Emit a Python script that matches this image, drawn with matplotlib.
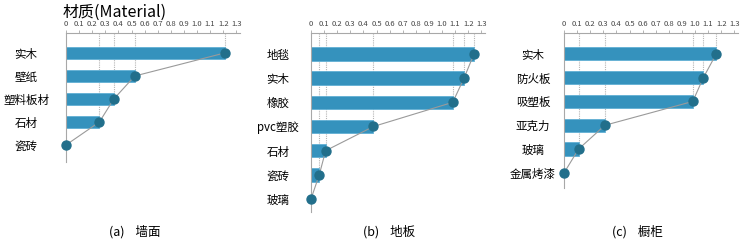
import matplotlib
matplotlib.use('Agg')
import matplotlib.pyplot as plt
import numpy as np

plt.rcParams['font.family'] = ['Noto Sans CJK SC', 'DejaVu Sans']

# data
wall_labels = ['实木', '壁纸', '塑料板材', '石材', '瓷砖']
wall_values = [1.21, 0.525, 0.365, 0.255, 0.0]

floor_labels = ['地毯', '实木', '橡胶', 'pvc塑胶', '石材', '瓷砖', '玻璃']
floor_values = [1.244, 1.168, 1.082, 0.477, 0.112, 0.063, 0.0]

cab_labels = ['实木', '防火板', '吸塑板', '亚克力', '玻璃', '金属烤漆']
cab_values = [1.163, 1.064, 0.983, 0.312, 0.111, 0.0]

captions = ['(a)    墙面', '(b)    地板', '(c)    橱柜']
ticks = [0, 0.1, 0.2, 0.3, 0.4, 0.5, 0.6, 0.7, 0.8, 0.9, 1.0, 1.1, 1.2, 1.3]
tick_labels = ['0', '0.1', '0.2', '0.3', '0.4', '0.5', '0.6', '0.7', '0.8', '0.9', '1.0', '1.1', '1.2', '1.3']

W, H = 748, 241
fig = plt.figure(figsize=(W / 100, H / 100), dpi=100)

bar_color = '#3592bd'
dot_color = '#226f8b'
grey = '#a8a8a8'

# (left px, top px, bottom px, ylim bottom, label pad px, caption center px)
layout = [
    (66, 33, 162, 4.74, 40, 135),
    (311, 33, 212, 6.54, 33, 389),
    (564, 33, 188, 5.63, 31, 637),
]
panels = [(wall_labels, wall_values), (floor_labels, floor_values), (cab_labels, cab_values)]

for (labels, values), (left, top, bottom, ybot, pad, cx), cap in zip(panels, layout, captions):
    width = 1.33 * 131
    ax = fig.add_axes([left / W, 1 - bottom / H, width / W, (bottom - top) / H])
    y = np.arange(len(labels))
    ax.barh(y, values, height=0.56, color=bar_color, edgecolor='#62b0d4', linewidth=0.6, zorder=2)
    ax.vlines([v for v in values if v > 0], -0.87, [i for i, v in zip(y, values) if v > 0],
              colors='#b5b5b5', linestyles=(0, (1, 1)), linewidth=0.8, zorder=1)
    ax.plot(values, y, color='#9a9a9a', linewidth=0.8, zorder=3)
    ax.scatter(values, y, s=42, color=dot_color, zorder=4, clip_on=False)
    ax.set_xlim(0, 1.33)
    ax.set_ylim(ybot, -0.87)
    ax.xaxis.tick_top()
    ax.set_xticks(ticks)
    ax.set_xticklabels(tick_labels, fontsize=5.5, color='#444444')
    ax.tick_params(axis='x', length=2, width=0.6, color=grey, pad=1.5)
    ax.set_yticks(y)
    ax.set_yticklabels(labels, fontsize=8.3, ha='center')
    ax.tick_params(axis='y', length=0, pad=pad * 0.72)
    for s in ['right', 'bottom']:
        ax.spines[s].set_visible(False)
    for s in ['top', 'left']:
        ax.spines[s].set_color(grey)
        ax.spines[s].set_linewidth(0.8)
    ax.patch.set_alpha(0)
    fig.text(cx / W, 1 - 232 / H, cap, fontsize=9, ha='center', va='center')

fig.text(63 / W, 1 - 12 / H, '材质(Material)', fontsize=11.5, ha='left', va='center')

fig.savefig('out.png', dpi=100)
